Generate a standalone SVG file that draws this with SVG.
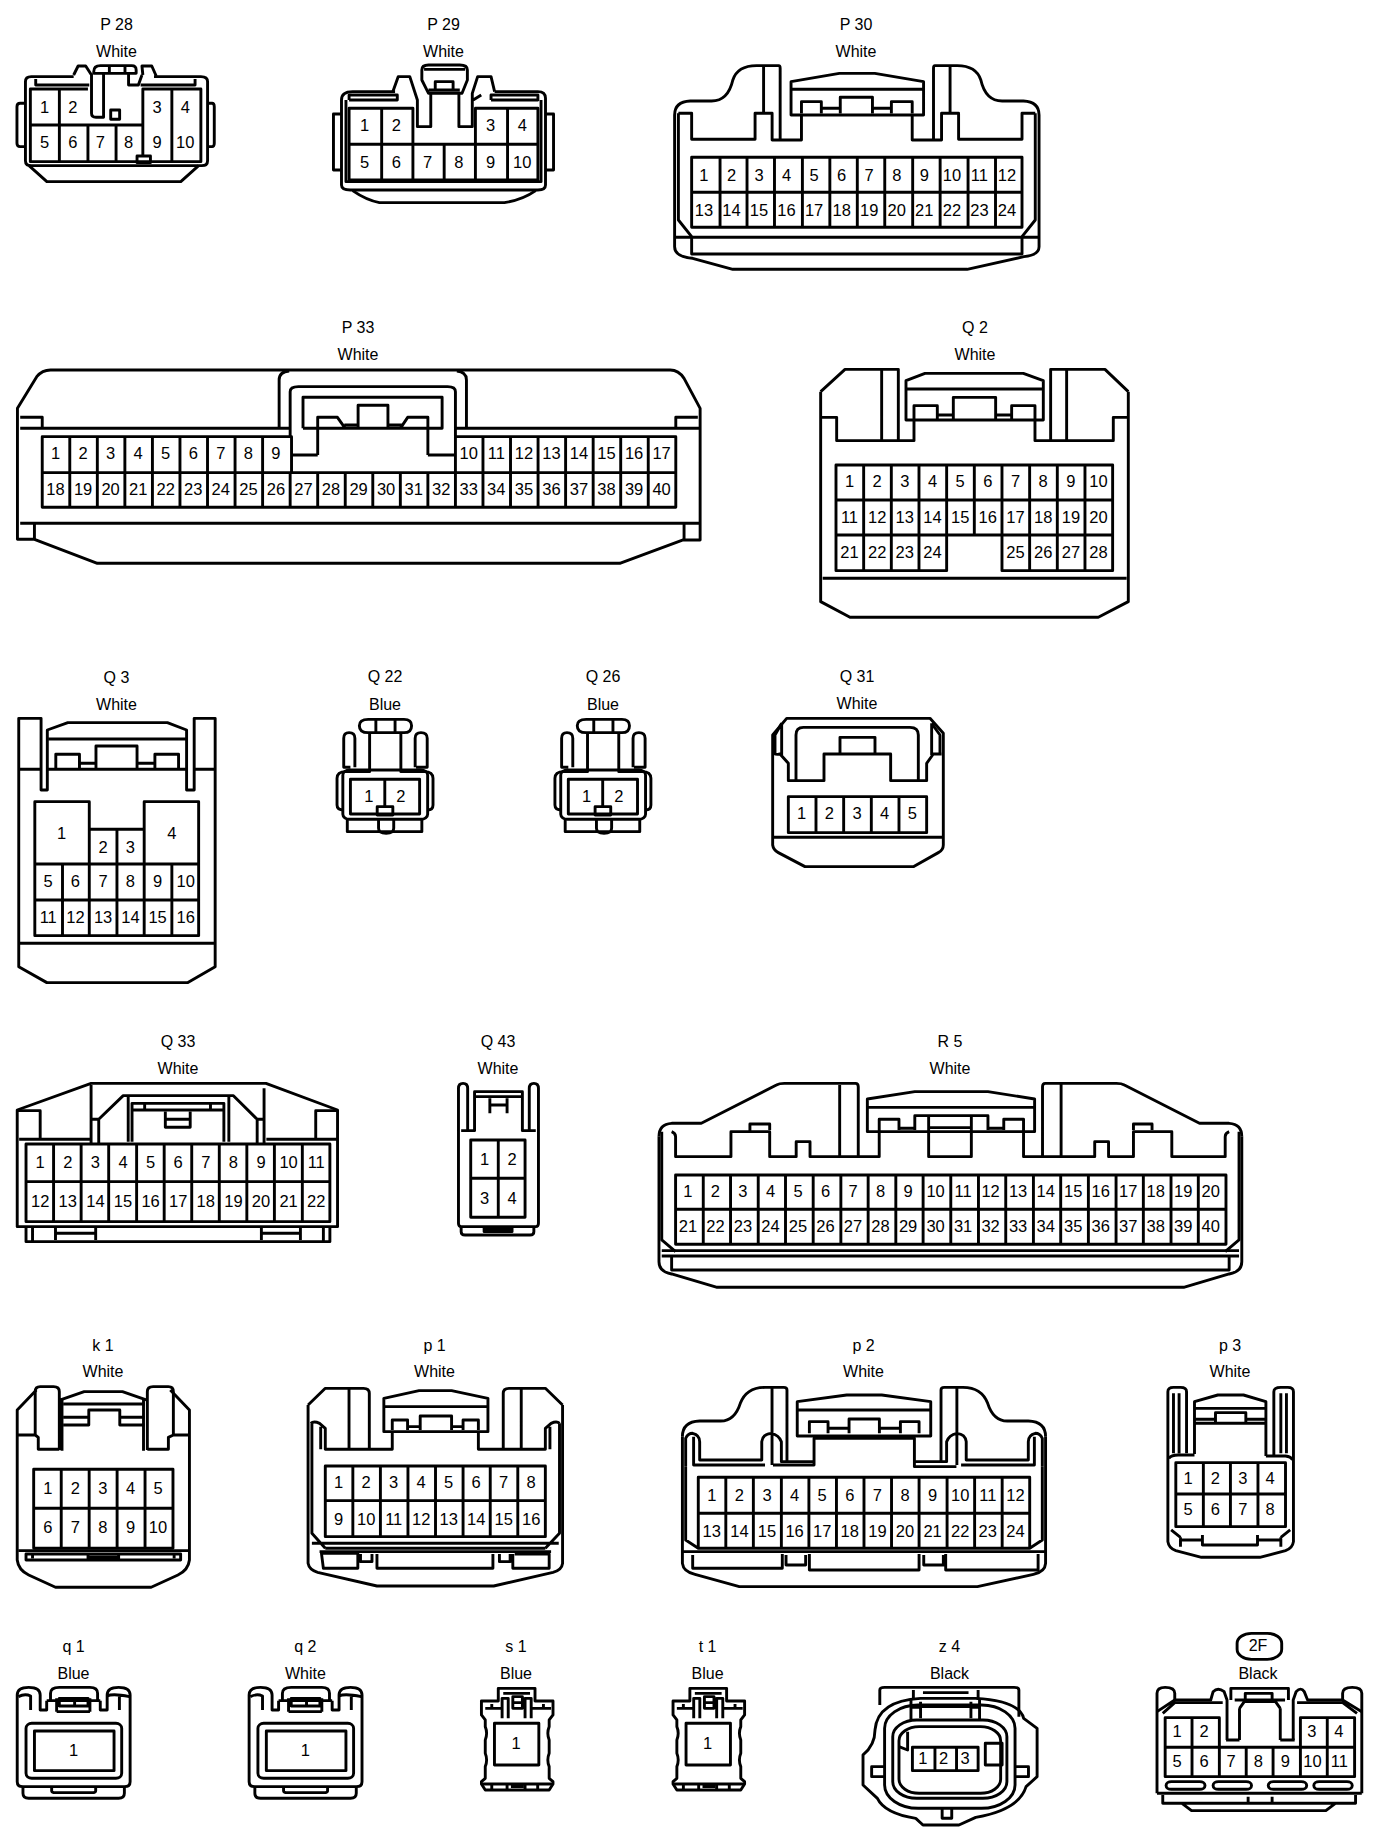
<svg xmlns="http://www.w3.org/2000/svg" width="1392" height="1846" viewBox="0 0 1392 1846">
<style>
path,rect{fill:none;stroke:#000;stroke-width:2.9;vector-effect:non-scaling-stroke;stroke-linejoin:round}
text{font-family:"Liberation Sans",Arial,sans-serif;text-anchor:middle;fill:#000}
.l{font-size:16px}
.p text{font-size:16.5px}
</style>
<defs>
<g id="sQ22">
<path d="M825 178H905Q922 178 922 197Q922 218 905 218H825Q805 218 805 197Q805 178 825 178ZM842 180V215M885 180V215"/>
<path d="M828 218V335H775Q755 335 755 355V435Q755 450 770 450M898 218V335H950Q970 335 970 355V435Q970 450 958 450"/>
<path d="M785 322H770V235Q770 218 782 218Q795 218 795 235V322M930 322V235Q930 218 943 218Q957 218 957 235V322H932"/>
<rect x="768" y="330" width="190" height="148" rx="15"/>
<rect x="785" y="358" width="155" height="104"/>
<path d="M862 358V440"/>
<rect x="845" y="440" width="35" height="25"/>
<path d="M778 478V515H945V478M848 480V505Q848 520 865 520Q882 520 882 505V480"/>
</g>
<g id="sQ1">
<path d="M45 195V455Q45 470 60 470H325Q340 470 340 455V195Q340 172 310 172Q280 172 280 195V240H262V212M45 195Q45 172 75 172Q105 172 105 195V240H122V212"/>
<path d="M132 208V190Q132 172 155 172H235Q255 172 255 190V208M122 212H262M148 245V205M235 245V205M148 245H235M155 205H230V228H155ZM195 205V228"/>
<path d="M48 200Q65 190 80 198V240M280 198Q295 190 338 200M312 198V240"/>
<rect x="68" y="280" width="250" height="165" rx="15"/>
<rect x="90" y="303" width="208" height="119"/>
<path d="M60 470V490Q60 505 75 505H310Q325 505 325 490V470M135 470V483Q135 488 145 488H240Q250 488 250 483V470"/>
</g>
<g id="sS1">
<path d="M1258 213H1302V175H1398V213H1445V255L1435 270V290Q1428 310 1435 330V370Q1428 390 1435 410V445L1445 455V462L1435 480H1268L1258 462V455L1268 445V410Q1275 390 1268 370V330Q1275 310 1268 290V270L1258 255Z"/>
<path d="M1258 462H1445M1285 462V478M1325 462V478M1372 462V478M1405 462V478M1335 470H1368"/>
<path d="M1315 190H1385M1312 265V205H1328V265M1372 265V205H1388V265M1340 200H1365V235H1340ZM1340 218H1365"/>
<path d="M1268 235H1312M1388 235H1440M1285 222V235M1420 222V235"/>
<rect x="1292" y="280" width="116" height="125"/>
</g>
</defs>

<g id="P28">
<g transform="scale(.4464,.3333)">
<path d="M165 230H70Q57 230 57 245V482Q57 497 70 497H452Q465 497 465 482V245Q465 230 450 230H345"/>
<path d="M65 497L105 545H405L445 497M55 310H45Q38 310 38 320V430Q38 440 45 440H55M465 310H475Q480 310 480 320V430Q480 440 475 440H465"/>
<path d="M80 237V255H200M315 255H437V237"/>
<path d="M165 225L175 198H192L205 225V340Q205 352 215 352H232V218M210 215Q210 197 225 197H295Q305 197 305 210V220H210ZM245 200V220M280 200V220"/>
<path d="M320 225L318 198H340L350 228M288 222V255H310L318 225"/>
<rect x="248" y="330" width="20" height="28"/>
<path d="M197 267H68V485H450V267H320V375H197M68 375H320M133 267V485M197 375V485M260 375V485M385 267V485M320 375V468"/>
<rect x="307" y="468" width="30" height="20"/>
</g>
<text class="l" x="116.5" y="29.5">P 28</text><text class="l" x="116.5" y="56.7">White</text>
<g class="p" transform="translate(0,113.3)"><text x="44.6">1</text><text x="72.8">2</text><text x="157.1">3</text><text x="185.3">4</text></g>
<g class="p" transform="translate(0,148.3)"><text x="44.6">5</text><text x="72.8">6</text><text x="100.4">7</text><text x="128.6">8</text><text x="157.1">9</text><text x="185.3">10</text></g>
</g>

<g id="P29">
<g transform="scale(.4464,.3333)">
<path d="M885 275H790Q765 275 765 300V555Q765 570 785 570H1205Q1222 570 1222 555V295Q1222 275 1205 275H1108"/>
<path d="M775 300V545H1212V300M782 300V285H890V300H782M1100 300V285H1205V300H1100"/>
<path d="M790 572Q820 600 850 608H1130Q1170 600 1200 572M765 342H747V510H765M1222 342H1240V510H1222"/>
<path d="M880 275L892 230H918L935 300V380H965V280M1108 275L1100 230H1070L1058 280V380H1028V280M1060 300L1078 285"/>
<path d="M945 210Q945 195 960 195H1030Q1047 195 1047 210V240L1035 280H960L945 240ZM950 208H1042M975 270V245H1015V270M960 270H1030"/>
<path d="M925 325H782V540H1205V325H1065V433H925ZM782 433H925M1065 433H1205M855 325V540M925 433V540M995 433V540M1065 433V540M1137 325V540"/>
</g>
<text class="l" x="443.5" y="29.5">P 29</text><text class="l" x="443.5" y="56.7">White</text>
<g class="p" transform="translate(0,130.7)"><text x="364.7">1</text><text x="396.4">2</text><text x="490.6">3</text><text x="522.3">4</text></g>
<g class="p" transform="translate(0,167.7)"><text x="364.7">5</text><text x="396.4">6</text><text x="427.7">7</text><text x="458.9">8</text><text x="490.6">9</text><text x="522.3">10</text></g>
</g>

<g id="P30">
<g transform="translate(650,0) scale(.4733,.3333)">
<path d="M52 345Q52 305 85 303H130Q165 303 175 240Q185 197 225 197H272Q275 197 275 205V420M822 345Q822 305 789 303H744Q709 303 699 240Q689 197 649 197H602Q599 197 599 205V420"/>
<path d="M52 345V740Q52 770 90 775L175 808H670L790 770Q822 765 822 740V345"/>
<path d="M60 340H88V418H222V340H258V420H320V345M814 340H786V418H652V340H616V420H554V345M60 340V660L88 710M814 340V660L786 710M240 197V340M634 197V340"/>
<path d="M298 345V245L400 220H475L578 245V345ZM298 268H578M320 340V305H362V340M402 340V292H470V340M510 340V305H554V340M362 325H402M470 325H510"/>
<path d="M52 712H822M88 712V762H786V712"/>
<path d="M88 472H786V682H88ZM88 577H786M148 472V682M205 472V682M263 472V682M322 472V682M380 472V682M438 472V682M496 472V682M555 472V682M613 472V682M672 472V682M730 472V682"/>
</g>
<text class="l" x="856" y="29.5">P 30</text><text class="l" x="856" y="56.7">White</text>
<g class="p" transform="translate(-1.5,180.7)"><text x="705.4">1</text><text x="733">2</text><text x="760.5">3</text><text x="788">4</text><text x="815.6">5</text><text x="843.2">6</text><text x="870.7">7</text><text x="898.3">8</text><text x="925.8">9</text><text x="953.4">10</text><text x="980.9">11</text><text x="1008.5">12</text></g>
<g class="p" transform="translate(-1.5,216)"><text x="705.4">13</text><text x="733">14</text><text x="760.5">15</text><text x="788">16</text><text x="815.6">17</text><text x="843.2">18</text><text x="870.7">19</text><text x="898.3">20</text><text x="925.8">21</text><text x="953.4">22</text><text x="980.9">23</text><text x="1008.5">24</text></g>
</g>

<g id="P33">
<g transform="translate(0,310) scale(.4591,.3333)">
<path d="M38 295L80 200Q92 180 110 180H1460Q1478 180 1490 205L1525 295V690H1488L1350 760H212L75 688H38Z"/>
<path d="M44 355H632M1525 355H992M44 322H92V355M1520 322H1472V355M44 640H1525M75 640V688M1490 640V688"/>
<path d="M608 355V210Q608 185 630 183M1016 355V210Q1016 185 995 183M632 380V245Q632 230 650 230H975Q992 230 992 245V380"/>
<path d="M660 355V262H963V355H660M692 435V322H735L752 355M932 435V322H888L872 355M780 355V286H845V355M750 345H780M845 345H875M635 435H692M932 435H992"/>
<path d="M635 380H92V592H1472V380H992V488H635ZM92 488H635M992 488H1472"/>
<path d="M152 380V592M212 380V592M272 380V592M332 380V592M392 380V592M452 380V592M512 380V592M572 380V592M632 488V592M692 488V592M752 488V592M812 488V592M872 488V592M932 488V592M992 488V592M1052 380V592M1112 380V592M1172 380V592M1232 380V592M1292 380V592M1352 380V592M1412 380V592"/>
</g>
<text class="l" x="358" y="332.7">P 33</text><text class="l" x="358" y="360">White</text>
<g class="p" transform="translate(-.5,459.3)"><text x="56">1</text><text x="83.6">2</text><text x="111.1">3</text><text x="138.7">4</text><text x="166.2">5</text><text x="193.8">6</text><text x="221.3">7</text><text x="248.9">8</text><text x="276.4">9</text><text x="469.3">10</text><text x="496.8">11</text><text x="524.4">12</text><text x="551.9">13</text><text x="579.5">14</text><text x="607">15</text><text x="634.6">16</text><text x="662.1">17</text></g>
<g class="p" transform="translate(-.5,495)"><text x="56">18</text><text x="83.6">19</text><text x="111.1">20</text><text x="138.7">21</text><text x="166.2">22</text><text x="193.8">23</text><text x="221.3">24</text><text x="248.9">25</text><text x="276.4">26</text><text x="304">27</text><text x="331.5">28</text><text x="359.1">29</text><text x="386.6">30</text><text x="414.2">31</text><text x="441.7">32</text><text x="469.3">33</text><text x="496.8">34</text><text x="524.4">35</text><text x="551.9">36</text><text x="579.5">37</text><text x="607">38</text><text x="634.6">39</text><text x="662.1">40</text></g>
</g>

<g id="Q2">
<g transform="translate(800,340) scale(.3333)">
<path d="M62 155L135 88H295V300M985 155L915 88H752V300M62 155V785L150 832H895L985 785V155"/>
<path d="M62 232H110V302H342V240M985 232H940V302H705V240M245 88V300M800 88V300M68 715H980"/>
<path d="M318 240V122L375 100H670L730 122V240ZM318 147H730M342 240V197H412V240M460 240V172H587V240M635 240V197H705V240M412 225H460M587 225H635"/>
<path d="M108 375H938V692H606V585H440V692H108ZM108 480H938M108 585H440M606 585H938M191 375V692M274 375V692M357 375V692M440 375V585M523 375V585M606 375V585M689 375V692M772 375V692M855 375V692"/>
</g>
<text class="l" x="975" y="333">Q 2</text><text class="l" x="975" y="360">White</text>
<g class="p" transform="translate(-.5,487.3)"><text x="850">1</text><text x="877.7">2</text><text x="905.3">3</text><text x="933">4</text><text x="960.7">5</text><text x="988.3">6</text><text x="1016">7</text><text x="1043.7">8</text><text x="1071.4">9</text><text x="1099">10</text></g>
<g class="p" transform="translate(-.5,522.7)"><text x="850">11</text><text x="877.7">12</text><text x="905.3">13</text><text x="933">14</text><text x="960.7">15</text><text x="988.3">16</text><text x="1016">17</text><text x="1043.7">18</text><text x="1071.4">19</text><text x="1099">20</text></g>
<g class="p" transform="translate(-.5,558.3)"><text x="850">21</text><text x="877.7">22</text><text x="905.3">23</text><text x="933">24</text><text x="1016">25</text><text x="1043.7">26</text><text x="1071.4">27</text><text x="1099">28</text></g>
</g>

<g id="Q3">
<g transform="translate(0,660) scale(.4464,.3333)">
<path d="M42 175V920L105 968H420L482 920V175H435V390H418V210L375 188H152L106 210V390H92V175Z"/>
<path d="M42 328H92M106 328H418M435 328H482M108 237H418M42 850H482"/>
<path d="M125 325V283H178V325M215 325V258H307V325M347 325V283H400V325M178 310H215M307 310H347"/>
<path d="M78 425H200V508H323V425H445V827H78ZM78 612H445M78 720H445M140 612V827M200 508V827M262 508V827M323 508V827M385 612V827"/>
</g>
<text class="l" x="116.5" y="682.7">Q 3</text><text class="l" x="116.5" y="710">White</text>
<g class="p"><text x="61.6" y="839.3">1</text><text x="103.1" y="853.3">2</text><text x="130.4" y="853.3">3</text><text x="171.9" y="839.3">4</text></g>
<g class="p" transform="translate(0,887.3)"><text x="48.2">5</text><text x="75.4">6</text><text x="103.1">7</text><text x="130.4">8</text><text x="157.6">9</text><text x="185.7">10</text></g>
<g class="p" transform="translate(0,923.3)"><text x="48.2">11</text><text x="75.4">12</text><text x="103.1">13</text><text x="130.4">14</text><text x="157.6">15</text><text x="185.7">16</text></g>
</g>

<g id="Q22">
<use href="#sQ22" transform="translate(0,660) scale(.4464,.3333)"/>
<text class="l" x="385" y="682">Q 22</text><text class="l" x="385" y="710">Blue</text>
<g class="p" transform="translate(0,801.7)"><text x="368.8">1</text><text x="400.9">2</text></g>
</g>

<g id="Q26">
<use href="#sQ22" transform="translate(217.9,660) scale(.4464,.3333)"/>
<text class="l" x="603" y="682">Q 26</text><text class="l" x="603" y="710">Blue</text>
<g class="p" transform="translate(0,801.7)"><text x="586.7">1</text><text x="618.8">2</text></g>
</g>

<g id="Q31">
<g transform="translate(760,660) scale(.3333)">
<path d="M38 225L80 175H510L550 220V555Q550 570 535 578L460 620H135L55 578Q40 570 38 555Z"/>
<path d="M40 280Q50 285 60 282L85 310V362H192V282H392V362H500V310L520 282H545M65 190V285M515 190V285M38 532H550M65 190L45 225V280M515 190L540 225V280"/>
<path d="M108 362V225Q108 202 130 202H450Q475 202 475 225V362M240 282V232H345V282"/>
<path d="M85 410H500V518H85ZM168 410V518M251 410V518M334 410V518M417 410V518"/>
</g>
<text class="l" x="857" y="682">Q 31</text><text class="l" x="857" y="709.3">White</text>
<g class="p" transform="translate(-1,819.3)"><text x="802.7">1</text><text x="830.4">2</text><text x="858">3</text><text x="885.7">4</text><text x="913.4">5</text></g>
</g>

<g id="Q33">
<g transform="translate(0,1030) scale(.3827,.3333)">
<path d="M45 240L238 160H695L882 240V590H45Z"/>
<path d="M45 242H105V328M882 242H825V328M50 328H238M696 328H882M238 165V340M258 340V268L322 197H610L672 268V340M690 175V340M238 268H258M672 268H692"/>
<path d="M335 200V335M598 200V335M345 335V220H585V335M345 240H585M378 222V240M550 222V240M432 245V292H497V245M432 268H497"/>
<path d="M68 342H862V575H68ZM68 455H862M140 342V575M212 342V575M284 342V575M357 342V575M429 342V575M501 342V575M573 342V575M645 342V575M717 342V575M790 342V575"/>
<path d="M68 590V635H862V590M85 590V635M845 590V635M145 590V630M250 590V630M145 610H250M683 590V630M785 590V630M683 610H785"/>
</g>
<text class="l" x="178" y="1046.7">Q 33</text><text class="l" x="178" y="1074">White</text>
<g class="p" transform="translate(0,1168.3)"><text x="40.2">1</text><text x="67.8">2</text><text x="95.4">3</text><text x="123">4</text><text x="150.6">5</text><text x="178.2">6</text><text x="205.8">7</text><text x="233.4">8</text><text x="261">9</text><text x="288.6">10</text><text x="316.2">11</text></g>
<g class="p" transform="translate(0,1207.3)"><text x="40.2">12</text><text x="67.8">13</text><text x="95.4">14</text><text x="123">15</text><text x="150.6">16</text><text x="178.2">17</text><text x="205.8">18</text><text x="233.4">19</text><text x="261">20</text><text x="288.6">21</text><text x="316.2">22</text></g>
</g>

<g id="Q43">
<g transform="translate(0,1030) scale(.3827,.3333)">
<path d="M1198 175Q1198 160 1210 160Q1222 160 1222 175V302M1198 175V580Q1198 590 1205 590H1400Q1407 590 1407 580V175Q1407 160 1395 160Q1383 160 1383 175V302"/>
<path d="M1205 302H1240V185H1365V302H1400M1240 200H1365M1280 205V250M1325 205V250M1280 225H1325"/>
<path d="M1230 330H1372V562H1230ZM1230 445H1372M1302 330V562"/>
<path d="M1205 590V605Q1205 615 1215 615H1385Q1395 615 1395 605V590M1265 590V605H1338V590M1265 598H1338"/>
</g>
<text class="l" x="498" y="1046.7">Q 43</text><text class="l" x="498" y="1074">White</text>
<g class="p" transform="translate(0,1165)"><text x="484.5">1</text><text x="512">2</text></g>
<g class="p" transform="translate(0,1204)"><text x="484.5">3</text><text x="512">4</text></g>
</g>

<g id="R5">
<g transform="translate(640,1030) scale(.3954,.3333)">
<path d="M48 320Q48 282 80 280H155L345 165Q352 160 365 160H545Q552 160 552 170V380M1522 320Q1522 282 1490 280H1415L1225 165Q1218 160 1205 160H1025Q1018 160 1018 170V380"/>
<path d="M48 320V695Q48 725 80 732L195 772H1375L1490 732Q1522 725 1522 695V320"/>
<path d="M55 305V630L90 665M1515 305V630L1480 665M80 305Q90 310 90 320V380H230V305H328V380H395V335H430V380H605V305M1490 305Q1480 310 1480 320V380H1345V305H1248V380H1185V335H1150V380H970V305"/>
<path d="M278 305V282H328V300M1248 300V282H1295V300M505 165V380M1065 160V380"/>
<path d="M575 305V207L695 185H880L998 207V305ZM575 232H998M605 305V268H655V300M920 300V268H970V305M695 300V257H880V300M730 260V380H838V260M730 293H838M655 295H695M880 295H920"/>
<path d="M55 662H1515M55 678H1515M80 678V720H1490V678"/>
<path d="M90 435H1482V643H90ZM90 538H1482M160 435V643M229 435V643M299 435V643M368 435V643M438 435V643M508 435V643M577 435V643M647 435V643M716 435V643M786 435V643M856 435V643M925 435V643M995 435V643M1064 435V643M1134 435V643M1204 435V643M1273 435V643M1343 435V643M1412 435V643"/>
</g>
<text class="l" x="950" y="1046.7">R 5</text><text class="l" x="950" y="1074">White</text>
<g class="p" transform="translate(-1.5,1196.7)"><text x="689.4">1</text><text x="716.9">2</text><text x="744.4">3</text><text x="772">4</text><text x="799.5">5</text><text x="827">6</text><text x="854.5">7</text><text x="882">8</text><text x="909.6">9</text><text x="937.1">10</text><text x="964.6">11</text><text x="992.1">12</text><text x="1019.6">13</text><text x="1047.2">14</text><text x="1074.7">15</text><text x="1102.2">16</text><text x="1129.7">17</text><text x="1157.2">18</text><text x="1184.8">19</text><text x="1212.3">20</text></g>
<g class="p" transform="translate(-1.5,1232.3)"><text x="689.4">21</text><text x="716.9">22</text><text x="744.4">23</text><text x="772">24</text><text x="799.5">25</text><text x="827">26</text><text x="854.5">27</text><text x="882">28</text><text x="909.6">29</text><text x="937.1">30</text><text x="964.6">31</text><text x="992.1">32</text><text x="1019.6">33</text><text x="1047.2">34</text><text x="1074.7">35</text><text x="1102.2">36</text><text x="1129.7">37</text><text x="1157.2">38</text><text x="1184.8">39</text><text x="1212.3">40</text></g>
</g>

<g id="k1">
<g transform="translate(0,1330) scale(.3827,.3333)">
<path d="M95 180L45 240V690Q48 720 75 735L145 772H395L465 735Q492 720 495 690V240L445 180"/>
<path d="M155 360V185Q155 170 140 170H105Q92 170 92 185V315L100 322V358H155M162 205V362M385 360V185Q385 170 400 170H440Q453 170 453 185V315L440 322V358H385M375 205V362M45 315H92M453 315H495"/>
<path d="M158 210L220 185H320L382 210M165 222H378M165 262H232M315 262H378M165 285H232V240H313V285H378"/>
<path d="M88 418H452V655H88ZM88 535H452M160 418V655M233 418V655M306 418V655M379 418V655"/>
<path d="M48 662H492M68 672H472V690H68ZM230 672V690M310 672V690M85 672V685M455 672V685M230 682H310"/>
</g>
<text class="l" x="103" y="1350.7">k 1</text><text class="l" x="103" y="1377.3">White</text>
<g class="p" transform="translate(0,1494)"><text x="47.8">1</text><text x="75.4">2</text><text x="102.9">3</text><text x="130.5">4</text><text x="158">5</text></g>
<g class="p" transform="translate(0,1532.7)"><text x="47.8">6</text><text x="75.4">7</text><text x="102.9">8</text><text x="130.5">9</text><text x="158">10</text></g>
</g>

<g id="p1">
<g transform="translate(0,1330) scale(.3827,.3333)">
<path d="M805 225L850 175H950Q965 175 965 190V355M1470 225L1425 175H1330Q1315 175 1315 190V355M805 225V700Q808 720 830 727L985 768H1290L1445 727Q1468 720 1470 700V225"/>
<path d="M912 175V358M1362 175V358M812 280Q820 272 835 280L850 295V358H1025V305M1462 280Q1455 272 1440 280L1425 295V358H1250V305M838 290V358M1437 290V358"/>
<path d="M815 280V610L850 655M1462 280V610L1425 655M815 640H1460M850 655H1425"/>
<path d="M1003 305V205L1095 182H1180L1275 205V305ZM1003 230H1275M1025 300V270H1065V300M1098 300V258H1180V300M1210 300V270H1250V300M1065 290H1098M1180 290H1210"/>
<path d="M850 408H1425V620H850ZM850 512H1425M922 408V620M994 408V620M1066 408V620M1138 408V620M1210 408V620M1281 408V620M1353 408V620"/>
<path d="M840 670H935V715H845ZM985 672V715H1288V672M1345 672H1435V715H1340V672M942 672V695H972V672M1305 672V695H1333V672M835 665H1440"/>
</g>
<text class="l" x="434.5" y="1350.7">p 1</text><text class="l" x="434.5" y="1377.3">White</text>
<g class="p" transform="translate(0,1488.3)"><text x="338.7">1</text><text x="366.2">2</text><text x="393.7">3</text><text x="421.2">4</text><text x="448.7">5</text><text x="476.2">6</text><text x="503.7">7</text><text x="531.2">8</text></g>
<g class="p" transform="translate(0,1525)"><text x="338.7">9</text><text x="366.2">10</text><text x="393.7">11</text><text x="421.2">12</text><text x="448.7">13</text><text x="476.2">14</text><text x="503.7">15</text><text x="531.2">16</text></g>
</g>

<g id="p2">
<g transform="translate(660,1330) scale(.4668,.3333)">
<path d="M48 320Q48 275 85 273H130Q160 273 172 220Q185 172 225 172H265Q272 172 272 180V395M826 320Q826 275 789 273H744Q714 273 702 220Q689 172 649 172H609Q602 172 602 180V395"/>
<path d="M48 320V700Q50 725 75 733L170 770H680L800 733Q825 725 826 700V320"/>
<path d="M55 410V325Q60 310 70 310Q85 315 85 335V390H218V335Q220 312 238 310Q255 315 260 335V395H330M72 320V405H225M240 172V405M636 172V405M819 410V325Q814 310 804 310Q789 315 789 335V390H656V335Q654 312 636 310Q619 315 614 335V395H544M802 320V405H645M242 405H330V325H545V410H635"/>
<path d="M294 318V215L400 195H475L580 215V318ZM294 240H580M320 310V275H360V310M405 310V267H470V310M515 310V275H555V310M360 295H405M470 295H515"/>
<path d="M55 410V630L82 655M819 410V630L792 655M48 665H826M70 675V715H262V672M320 672V720H555V672M612 672V720H810V672M270 675V705H312V675M565 675V705H607V675"/>
<path d="M82 442H792V655H82ZM82 550H792M141 442V655M200 442V655M260 442V655M319 442V655M378 442V655M437 442V655M496 442V655M555 442V655M615 442V655M674 442V655M733 442V655"/>
</g>
<text class="l" x="863.5" y="1350.7">p 2</text><text class="l" x="863.5" y="1377.3">White</text>
<g class="p" transform="translate(-1,1500.7)"><text x="712.8">1</text><text x="740.4">2</text><text x="768">3</text><text x="795.6">4</text><text x="823.2">5</text><text x="850.8">6</text><text x="878.4">7</text><text x="906">8</text><text x="933.6">9</text><text x="961.2">10</text><text x="988.8">11</text><text x="1016.4">12</text></g>
<g class="p" transform="translate(-1,1536.7)"><text x="712.8">13</text><text x="740.4">14</text><text x="768">15</text><text x="795.6">16</text><text x="823.2">17</text><text x="850.8">18</text><text x="878.4">19</text><text x="906">20</text><text x="933.6">21</text><text x="961.2">22</text><text x="988.8">23</text><text x="1016.4">24</text></g>
</g>

<g id="p3">
<g transform="translate(660,1330) scale(.4668,.3333)">
<path d="M1088 185Q1088 172 1100 172H1115Q1128 172 1128 185V370M1088 185V635Q1090 655 1105 662L1160 682H1285L1340 662Q1355 655 1357 635V185Q1357 172 1345 172H1330Q1315 172 1315 185V375"/>
<path d="M1100 190V370M1112 190V370M1330 190V370M1342 190V370M1090 385Q1095 375 1110 375H1145M1298 378H1340Q1352 380 1355 390"/>
<path d="M1145 372V215L1195 195H1250L1298 215V378M1148 235H1295M1148 268H1190M1255 268H1295M1148 280H1295M1190 280V248H1255V280"/>
<path d="M1105 398H1340V590H1105ZM1105 492H1340M1164 398V590M1222 398V590M1281 398V590"/>
<path d="M1095 600L1115 622M1350 600L1330 622M1115 630H1160M1280 630H1330M1115 622V650M1330 622V650M1162 615V645H1280V615"/>
</g>
<text class="l" x="1230" y="1350.7">p 3</text><text class="l" x="1230" y="1377.3">White</text>
<g class="p" transform="translate(-1,1484)"><text x="1189">1</text><text x="1216.4">2</text><text x="1243.8">3</text><text x="1271.2">4</text></g>
<g class="p" transform="translate(-1,1515)"><text x="1189">5</text><text x="1216.4">6</text><text x="1243.8">7</text><text x="1271.2">8</text></g>
</g>

<g id="q1">
<use href="#sQ1" transform="translate(0,1630) scale(.3827,.3333)"/>
<text class="l" x="73.5" y="1652">q 1</text><text class="l" x="73.5" y="1678.7">Blue</text>
<g class="p"><text x="73.5" y="1756">1</text></g>
</g>

<g id="q2">
<use href="#sQ1" transform="translate(231.9,1630) scale(.3827,.3333)"/>
<text class="l" x="305.4" y="1652">q 2</text><text class="l" x="305.4" y="1678.7">White</text>
<g class="p"><text x="305.4" y="1756">1</text></g>
</g>

<g id="s1">
<use href="#sS1" transform="translate(0,1630) scale(.3827,.3333)"/>
<text class="l" x="516" y="1652">s 1</text><text class="l" x="516" y="1678.7">Blue</text>
<g class="p"><text x="516" y="1749.3">1</text></g>
</g>

<g id="t1">
<use href="#sS1" transform="translate(191.6,1630) scale(.3827,.3333)"/>
<text class="l" x="707.6" y="1652">t 1</text><text class="l" x="707.6" y="1678.7">Blue</text>
<g class="p"><text x="707.6" y="1749.3">1</text></g>
</g>

<g id="z4">
<g transform="translate(640,1630) scale(.4796,.3333)">
<path d="M500 225V180Q500 172 510 172H780Q790 172 790 180V260M570 180V210M705 180V210M590 188H685"/>
<path d="M465 375Q490 345 490 300Q495 212 585 205H700Q790 212 800 265L828 295V440L805 470Q790 540 700 562L665 585H590L575 565Q510 550 495 505L465 465Z"/>
<rect x="510" y="225" width="272" height="310" rx="70"/>
<path d="M510 410H483V440H510M782 410H810V440H782"/>
<rect x="527" y="270" width="238" height="235" rx="50"/>
<rect x="540" y="290" width="212" height="200" rx="42"/>
<path d="M565 210V270M585 215V265M690 215V265M708 210V270M585 230H690M565 232H585M690 232H708M540 350L558 360V305M630 535V565H650V535"/>
<rect x="720" y="340" width="35" height="65"/>
<path d="M568 352H705V422H568ZM615 352V422M660 352V422"/>
</g>
<text class="l" x="949.5" y="1652">z 4</text><text class="l" x="949.5" y="1678.7">Black</text>
<g class="p" transform="translate(-1,1764.3)"><text x="923.9">1</text><text x="944.6">2</text><text x="966.1">3</text></g>
</g>

<g id="c2F">
<g transform="translate(640,1630) scale(.4796,.3333)">
<rect x="1245" y="10" width="93" height="78" rx="30"/>
<path d="M1078 490V190Q1078 172 1095 172Q1115 172 1115 190V210H1190L1195 185Q1205 170 1218 185L1224 210V330M1505 490V190Q1505 172 1485 172Q1465 172 1465 190V210H1392L1385 185Q1378 170 1368 185L1362 210V330"/>
<path d="M1078 245L1115 210M1505 245L1465 210M1090 250L1115 218H1215M1495 250L1465 218H1370"/>
<path d="M1232 210V175H1352V210M1240 210H1345M1262 210V190H1318V210M1250 235V330M1335 235V330M1250 235L1260 215H1325L1335 235M1222 330H1250M1335 330H1365"/>
<path d="M1208 263H1095V440H1490V263H1377V352H1208ZM1095 352H1208M1377 352H1490M1151 263V440M1208 352V440M1264 352V440M1320 352V440M1377 352V440M1433 263V440"/>
<rect x="1097" y="455" width="81" height="23" rx="11"/>
<rect x="1195" y="455" width="80" height="23" rx="11"/>
<rect x="1310" y="455" width="80" height="23" rx="11"/>
<rect x="1405" y="455" width="80" height="23" rx="11"/>
<path d="M1078 490H1505M1090 495V520H1492V495M1268 500V515M1318 500V515M1130 520L1150 542H1430L1450 520"/>
</g>
<text class="l" x="1258" y="1650.7">2F</text><text class="l" x="1258" y="1678.7">Black</text>
<g class="p" transform="translate(-1,1736.7)"><text x="1178.1">1</text><text x="1205">2</text><text x="1312.9">3</text><text x="1339.8">4</text></g>
<g class="p" transform="translate(-1,1766.7)"><text x="1178.1">5</text><text x="1205.2">6</text><text x="1232.2">7</text><text x="1259.3">8</text><text x="1286.3">9</text><text x="1313.4">10</text><text x="1340.4">11</text></g>
</g>
</svg>
